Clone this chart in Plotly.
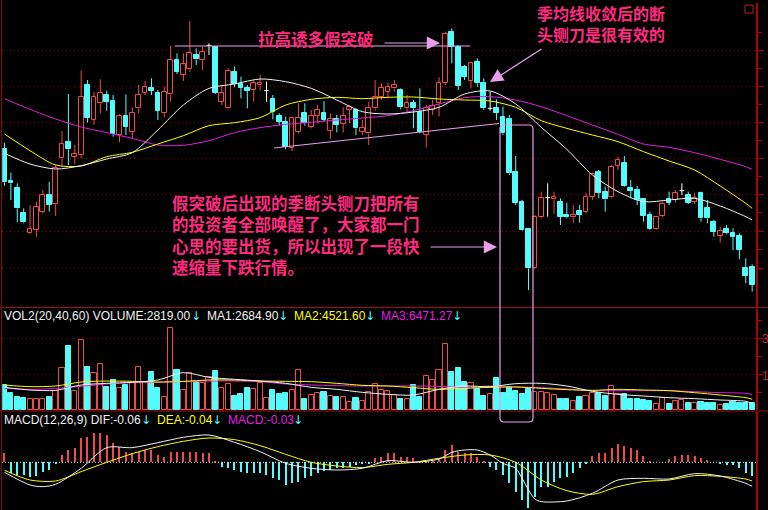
import plotly.graph_objects as go

# ---------------- data ----------------
opens = [6.12,5.16,4.95,4.20,3.60,3.70,4.25,4.75,4.47,5.85,
         6.33,5.90,5.95,8.05,7.00,7.50,7.75,7.57,6.55,7.13,
         6.65,7.35,7.82,7.97,7.82,7.22,7.77,8.80,8.35,8.52,
         8.95,8.80,9.24,9.20,7.55,7.35,8.45,8.07,7.97,7.90,
         8.05,7.88,7.63,7.13,6.93,6.17,6.65,7.22,6.80,7.13,
         7.22,6.67,7.02,6.87,7.30,7.30,6.65,6.60,7.35,7.69,
         7.85,7.95,7.90,7.35,7.50,7.25,6.55,7.30,7.50,8.10,
         9.65,9.20,8.58,8.18,8.73,8.10,7.35,7.35,7.08,7.03,
         5.43,4.55,3.73,2.55,4.10,4.67,4.62,4.55,4.15,4.08,
         4.27,4.25,4.70,5.45,4.85,4.68,5.63,5.70,4.95,4.90,
         4.62,4.15,3.72,4.13,4.62,4.60,4.88,4.75,4.55,4.82,
         4.35,3.95,3.52,3.73,3.60,3.52,2.55,2.58]
closes = [5.13,5.10,4.35,3.93,3.72,4.40,4.75,4.45,5.55,6.27,
          6.12,5.97,7.70,7.07,7.70,7.82,7.55,6.57,7.13,6.80,
          7.22,7.75,8.00,7.87,7.27,7.85,8.80,8.45,8.67,9.00,
          8.82,9.05,9.24,7.82,7.82,8.48,8.07,7.97,7.88,8.10,
          8.12,7.88,7.25,6.95,6.20,7.05,7.07,6.90,7.13,7.30,
          7.00,7.02,6.85,7.13,7.38,6.75,6.77,7.35,7.68,7.96,
          8.00,8.05,7.38,7.50,7.35,6.65,7.35,7.42,8.10,9.58,
          9.20,8.02,8.30,8.72,8.10,7.35,7.35,7.22,6.60,5.40,
          4.52,3.70,2.55,4.10,4.67,4.67,4.70,4.10,4.08,4.15,
          4.15,4.70,5.38,4.82,4.62,5.60,5.80,5.02,4.88,4.60,
          4.13,3.72,4.08,4.48,4.52,4.82,4.88,4.52,4.65,4.05,
          4.05,3.65,3.68,3.60,3.50,3.10,2.32,2.05]
highs = [6.32,5.42,5.10,4.35,4.45,4.55,4.90,5.15,5.65,6.67,
         7.78,6.25,8.48,8.20,7.85,8.22,7.88,7.75,7.17,7.77,
         7.38,8.05,8.18,8.25,7.90,8.00,9.22,9.00,9.00,9.97,
         9.15,9.20,9.30,9.22,8.05,8.55,8.60,8.30,8.05,8.20,
         8.35,8.15,7.75,7.20,7.10,7.10,7.50,7.50,7.30,7.45,
         7.57,7.20,7.15,7.38,7.45,7.35,7.00,7.55,8.20,8.10,
         8.12,8.20,7.95,7.75,7.60,7.95,7.45,7.60,8.28,9.65,
         9.75,9.25,8.65,8.75,8.85,8.25,7.85,7.62,7.40,7.15,
         5.92,4.60,3.75,4.15,4.85,5.10,4.85,4.65,4.52,4.45,
         4.45,4.82,5.42,5.50,5.00,5.65,5.90,5.92,5.20,5.02,
         4.65,4.25,4.12,4.55,4.85,4.90,5.10,4.85,4.82,4.85,
         4.60,4.00,3.80,3.85,3.75,3.60,2.85,2.67]
lows = [5.03,4.60,3.94,3.90,3.58,3.50,4.20,4.25,4.12,5.60,
        5.65,5.68,5.85,6.92,6.85,7.20,7.28,6.50,6.33,6.55,
        6.45,7.20,7.75,7.75,7.00,7.08,7.55,8.38,8.17,8.45,
        8.65,8.50,8.95,7.78,7.45,7.32,7.98,7.65,7.35,7.55,
        7.88,7.55,7.02,6.83,6.12,6.07,6.60,6.83,6.75,6.90,
        6.95,6.43,6.63,6.63,6.90,6.55,6.55,6.25,7.28,7.60,
        7.65,7.85,7.32,7.20,6.75,6.60,6.18,7.15,7.10,8.05,
        8.70,7.90,8.20,7.95,8.00,7.30,7.28,7.00,6.55,5.35,
        4.45,3.68,1.90,2.52,4.05,4.10,4.18,3.85,4.05,3.92,
        3.92,4.20,4.60,4.65,4.25,4.65,5.50,5.00,4.65,4.45,
        3.95,3.70,3.70,4.08,4.45,4.52,4.75,4.48,4.48,3.95,
        3.90,3.50,3.32,3.57,3.10,2.82,2.10,1.85]

volumes = [10500,7000,5600,5180,4620,4620,4620,5600,8120,17500,
           26880,8120,29400,18200,15680,19320,9520,12600,9100,10500,
           11200,18200,11900,16100,9100,5600,34300,16800,8400,15400,
           11900,11200,13720,16380,9100,10920,5880,6720,9100,8680,
           11480,5180,8400,6580,7280,8400,16800,4620,6300,7000,
           7700,5880,5600,5600,3500,5180,3920,7700,10920,8400,
           8120,6300,4480,4620,10500,5600,14280,12600,16800,27720,
           16100,17780,11900,11200,8680,5880,6720,13580,7280,9800,
           8120,6720,8680,7700,7420,7000,6300,4620,4480,3780,
           5600,5880,7000,7000,5880,10080,6580,6720,4480,4480,
           4200,3780,2380,5180,2380,3780,4200,3080,3080,3500,
           3080,3080,2100,2380,3500,3080,3080,2819]

# moving-average lines, sampled at these candle indices
ma_idx = [0,4,8,12,16,20,24,28,32,36,40,44,48,52,56,60,64,68,72,76,80,84,88,92,96,100,104,108,112,116,117]
ma_short = [6.00,5.68,5.53,5.63,5.83,6.02,6.70,7.45,7.95,8.08,8.23,8.15,7.95,7.60,7.25,7.18,7.24,7.38,7.78,7.87,7.48,6.78,6.12,5.35,4.85,4.55,4.60,4.65,4.42,4.10,4.00]
ma_mid = [6.58,6.08,5.65,5.62,5.90,6.03,6.28,6.53,6.83,6.92,7.07,7.45,7.62,7.68,7.64,7.68,7.69,7.63,7.60,7.57,7.38,6.98,6.75,6.55,6.35,6.05,5.77,5.50,5.02,4.50,4.35]
ma_long = [7.64,7.32,7.03,6.79,6.62,6.45,6.25,6.24,6.38,6.62,6.77,6.87,6.93,7.00,7.06,7.13,7.28,7.48,7.67,7.70,7.60,7.40,7.13,6.85,6.57,6.28,6.18,6.02,5.82,5.60,5.52]

vol_ma1 = [9520,8400,8260,10500,11200,11620,12600,15680,13720,12880,12180,11200,9520,8680,7420,6580,6300,8680,10080,9800,11060,11200,10080,7840,6580,5880,5180,4760,4200,3640,2685]
vol_ma2 = [10500,9800,10080,11760,12180,12040,11760,12040,12600,12600,12180,12040,11900,11200,10360,10080,9380,8680,9100,9520,9660,9100,8540,8260,8680,8400,8120,7280,6300,5180,4522]
vol_ma3 = [9100,8680,9100,9940,10920,11480,11620,11900,12180,12180,11900,10920,10500,10220,10080,10080,10080,9940,9520,10080,9660,9380,8820,8120,8120,8120,8120,7700,7280,7000,6471]

macd_hist = [0.0225,-0.0275,-0.0317,-0.0317,-0.0358,-0.0333,-0.0233,-0.0192,-0.0025,0.0183,
             0.0308,0.0367,0.06,0.0642,0.0725,0.0742,0.0683,0.0475,0.0392,0.0267,
             0.0225,0.0267,0.0308,0.0308,0.0183,0.0142,0.0267,0.0267,0.0267,0.0267,
             0.025,0.0225,0.0225,0.0017,-0.0108,-0.015,-0.0192,-0.0233,-0.0275,-0.0275,
             -0.0275,-0.0317,-0.04,-0.0442,-0.0567,-0.0525,-0.0483,-0.04,-0.0333,-0.0275,
             -0.0217,-0.0192,-0.015,-0.015,-0.0108,-0.0067,-0.005,-0.0025,0.01,0.0142,
             0.0225,0.0225,0.0142,0.0142,0.01,0.0033,0.0017,0.0033,0.01,0.0308,
             0.0433,0.0267,0.0225,0.0225,0.0142,0.0017,-0.0108,-0.0192,-0.0317,-0.0525,
             -0.0733,-0.0942,-0.115,-0.0858,-0.0608,-0.0608,-0.0483,-0.04,-0.0358,-0.0275,
             -0.015,-0.0025,0.0167,0.0225,0.0225,0.035,0.045,0.0417,0.035,0.0308,
             0.0167,0.0033,0.0,0.0,0.0083,0.0167,0.0183,0.0183,0.0167,0.01,
             0.0058,0.0,-0.0025,-0.0067,-0.0067,-0.015,-0.0275,-0.0333]
dif_idx = [0,4,6,8,12,16,20,24,28,32,36,40,44,48,52,56,60,64,68,70,72,74,76,78,80,81,82,83,84,88,92,96,100,104,108,112,116,117]
dif_vals = [-0.025,-0.0567,-0.0608,-0.055,-0.015,0.0367,0.0367,0.0492,0.0625,0.0683,0.05,0.0267,-0.0025,-0.015,-0.0192,-0.015,
            0.0042,0.0,0.0083,0.025,0.0308,0.0308,0.0183,-0.0025,-0.015,-0.04,-0.0692,-0.0917,-0.0983,-0.0967,-0.0775,-0.0442,
            -0.04,-0.0417,-0.0283,-0.0342,-0.0525,-0.06]
dea_vals = [-0.02,-0.0442,-0.0467,-0.0233,0.0,0.0217,0.0392,0.0525,0.0608,0.0567,0.0417,0.02,0.0,-0.0092,-0.0133,-0.005,
            0.0,0.01,0.0183,0.0183,0.0,-0.0442,-0.0708,-0.08,-0.0608,-0.0483,-0.0442,-0.0333,-0.035,-0.0417,-0.0467]

price_grid = [2.56, 3.67, 4.78, 5.86, 6.94, 8.02, 9.10]
price_minor = [3.115, 4.225, 5.32, 6.40, 7.48, 8.56, 9.64]
vol_grid = [15000, 30000]
vol_minor = [7500, 22500, 37500]

vol_header = [("VOL2(20,40,60) VOLUME:2819.00", "w"), ("↓", "c"), ("MA1:2684.90", "w"), ("↓", "c"),
              ("MA2:4521.60", "y"), ("↓", "c"), ("MA3:6471.27", "m"), ("↓", "c")]
macd_header = [("MACD(12,26,9) DIF:-0.06", "w"), ("↓", "c"), ("DEA:-0.04", "y"), ("↓", "c"),
               ("MACD:-0.03", "m"), ("↓", "c")]

note_top = "拉高诱多假突破"
note_right = ["季均线收敛后的断", "头铡刀是很有效的"]
note_body = ["假突破后出现的季断头铡刀把所有", "的投资者全部唤醒了，大家都一门",
             "心思的要出货，所以出现了一段快", "速缩量下跌行情。"]

# ---------------- styling ----------------
W, H = 768, 510
RED = "#f04a4a"
CYAN = "#54fcfc"
WHITE = "#f2f2f2"
YELLOW = "#ffff00"
MAG = "#e020e0"
GRID = "#8a0000"
AXIS = "#b00000"
NOTE = "#ff2a80"
ANN = "#e8a0ec"
CJK = "Noto Sans CJK SC"
LAT = "Liberation Sans, Arial"
COLS = {"w": WHITE, "c": CYAN, "y": YELLOW, "m": MAG}


def px(x):
    return x / W


def py(y):
    return 1 - y / H


N = len(opens)
idx = list(range(N))
up = [i for i in idx if closes[i] > opens[i]]
dn = [i for i in idx if closes[i] < opens[i]]
dj = [i for i in idx if closes[i] == opens[i]]

fig = go.Figure()

# candle bodies
fig.add_trace(go.Bar(x=up, y=[closes[i] - opens[i] for i in up], base=[opens[i] for i in up],
                     width=0.74, marker=dict(color="#000000", line=dict(color=RED, width=1)),
                     xaxis="x", yaxis="y"))
fig.add_trace(go.Bar(x=dn, y=[opens[i] - closes[i] for i in dn], base=[closes[i] for i in dn],
                     width=0.74, marker=dict(color=CYAN, line=dict(color=CYAN, width=1)),
                     xaxis="x", yaxis="y"))


def wicks(ids):
    xs, ys = [], []
    for i in ids:
        lo, hi = min(opens[i], closes[i]), max(opens[i], closes[i])
        xs += [i, i, None, i, i, None]
        ys += [lows[i], lo, None, hi, highs[i], None]
    return xs, ys


for ids, col in ((up, RED), (dn, CYAN)):
    wx, wy = wicks(ids)
    fig.add_trace(go.Scatter(x=wx, y=wy, mode="lines", line=dict(color=col, width=1),
                             xaxis="x", yaxis="y", hoverinfo="skip"))
dx, dy = [], []
for i in dj:
    dx += [i, i, None, i - 0.37, i + 0.37, None]
    dy += [lows[i], highs[i], None, opens[i], opens[i], None]
fig.add_trace(go.Scatter(x=dx, y=dy, mode="lines", line=dict(color="#ffffff", width=1),
                         xaxis="x", yaxis="y", hoverinfo="skip"))

for vals, col in ((ma_long, MAG), (ma_mid, YELLOW), (ma_short, WHITE)):
    fig.add_trace(go.Scatter(x=ma_idx, y=vals, mode="lines",
                             line=dict(color=col, width=1, shape="spline", smoothing=0.8),
                             xaxis="x", yaxis="y"))

# volume
vup = [i for i in idx if closes[i] >= opens[i]]
vdn = [i for i in idx if closes[i] < opens[i]]
fig.add_trace(go.Bar(x=vup, y=[volumes[i] for i in vup], width=0.8,
                     marker=dict(color="#000000", line=dict(color=RED, width=1)),
                     xaxis="x2", yaxis="y2"))
fig.add_trace(go.Bar(x=vdn, y=[volumes[i] for i in vdn], width=0.8,
                     marker=dict(color=CYAN, line=dict(color=CYAN, width=1)),
                     xaxis="x2", yaxis="y2"))
for vals, col in ((vol_ma3, MAG), (vol_ma2, YELLOW), (vol_ma1, WHITE)):
    fig.add_trace(go.Scatter(x=ma_idx, y=vals, mode="lines",
                             line=dict(color=col, width=1, shape="spline", smoothing=0.8),
                             xaxis="x2", yaxis="y2"))

# MACD
fig.add_trace(go.Bar(x=idx, y=macd_hist, width=0.18,
                     marker=dict(color=[RED if v >= 0 else CYAN for v in macd_hist], line=dict(width=0)),
                     xaxis="x3", yaxis="y3"))
fig.add_trace(go.Scatter(x=ma_idx, y=dea_vals, mode="lines",
                         line=dict(color=YELLOW, width=1, shape="spline", smoothing=0.8),
                         xaxis="x3", yaxis="y3"))
fig.add_trace(go.Scatter(x=dif_idx, y=dif_vals, mode="lines",
                         line=dict(color=WHITE, width=1, shape="spline", smoothing=0.8),
                         xaxis="x3", yaxis="y3"))

xdom = [px(2), px(756)]
xr = [-0.39, 117.6]
xax = dict(domain=xdom, range=xr, showgrid=False, zeroline=False, showticklabels=False,
           ticks="", showline=False, fixedrange=True)


def yax(dom, rng, grid, minor, anchor):
    return dict(domain=dom, range=rng, side="right", anchor=anchor, tickvals=grid,
                showticklabels=False, ticks="outside", ticklen=6, tickcolor=AXIS, tickwidth=1,
                showgrid=True, gridcolor=GRID, griddash="1px,3px", gridwidth=1,
                showline=True, linecolor=AXIS, linewidth=1.5, zeroline=False,
                minor=dict(tickvals=minor, ticks="outside", ticklen=4, tickcolor=AXIS, showgrid=False))


layout = dict(
    width=W, height=H, autosize=False,
    margin=dict(l=0, r=0, t=0, b=0, pad=0),
    paper_bgcolor="#000000", plot_bgcolor="#000000",
    showlegend=False, barmode="overlay", bargap=0,
    xaxis=dict(xax, anchor="y"),
    xaxis2=dict(xax, anchor="y2"),
    xaxis3=dict(xax, anchor="y3"),
    yaxis=yax([py(307), py(3)], [1.39, 10.51], price_grid, price_minor, "x"),
    yaxis2=yax([py(410), py(309)], [0, 42420], vol_grid, vol_minor, "x2"),
    yaxis3=dict(domain=[0, py(412)], range=[-0.1192, 0.1258], side="right", anchor="x3",
                showticklabels=False, ticks="", showgrid=False, zeroline=False,
                showline=True, linecolor=AXIS, linewidth=2),
)
fig.update_layout(**layout)

shapes = []
# panel separators and borders
for yy in (307.5, 411):
    shapes.append(dict(type="line", xref="paper", yref="paper", x0=0, x1=1, y0=py(yy), y1=py(yy),
                       line=dict(color="#a01010", width=1.2)))
shapes.append(dict(type="line", xref="paper", yref="paper", x0=px(1.5), x1=px(1.5), y0=0, y1=1,
                   line=dict(color="#5a1a1a", width=1.5)))
shapes.append(dict(type="rect", xref="paper", yref="paper", x0=px(745), x1=px(753), y0=py(13), y1=py(5),
                   line=dict(color="#b02020", width=1)))
# MACD zero line
shapes.append(dict(type="line", xref="paper", yref="y3", x0=xdom[0], x1=xdom[1], y0=0, y1=0,
                   line=dict(color="#d8d8d8", width=1, dash="1px,2px")))
# annotation lines
shapes.append(dict(type="line", xref="paper", yref="paper", x0=px(175), x1=px(470), y0=py(46), y1=py(46),
                   line=dict(color=ANN, width=1.2)))
shapes.append(dict(type="line", xref="paper", yref="paper", x0=px(274), x1=px(499), y0=py(148), y1=py(123.5),
                   line=dict(color=ANN, width=1.2)))
pts = [("M", 500, 418), ("L", 500, 129), ("Q", 500, 125, 504, 125), ("L", 529, 125),
       ("Q", 533, 125, 533, 129), ("L", 533, 418), ("Q", 533, 422, 529, 422), ("L", 504, 422),
       ("Q", 500, 422, 500, 418)]
path = ""
for p in pts:
    cmd = p[0]
    coords = p[1:]
    seg = []
    for k in range(0, len(coords), 2):
        seg.append(f"{px(coords[k]):.5f},{py(coords[k + 1]):.5f}")
    path += cmd + " " + " ".join(seg) + " "
shapes.append(dict(type="path", xref="paper", yref="paper", path=path + "Z",
                   line=dict(color=ANN, width=1.2)))
fig.update_layout(shapes=shapes)

ann = []


def text(t, x, y, color, size, family, anchor="left", yanchor="middle"):
    ann.append(dict(text=t, x=px(x), y=py(y), xref="paper", yref="paper", showarrow=False,
                    xanchor=anchor, yanchor=yanchor, align="left",
                    font=dict(color=color, size=size, family=family), borderpad=0))


text("<b>" + note_top + "</b>", 257, 39, NOTE, 16.5, CJK)
text("<b>" + "<br>".join(note_right) + "</b>", 536, 23.5, NOTE, 16, CJK)
text("<b>" + "<br>".join(note_body) + "</b>", 171, 235, NOTE, 16.5, CJK)

vol_x = [3, 196, 206, 283, 293, 370, 380, 457]
for (t, c), x in zip(vol_header, vol_x):
    text(t, x, 316, COLS[c], 12, LAT if t != "↓" else "DejaVu Sans", "center" if t == "↓" else "left")
macd_x = [3, 146, 156, 217, 227, 298]
for (t, c), x in zip(macd_header, macd_x):
    text(t, x, 420, COLS[c], 12, LAT if t != "↓" else "DejaVu Sans", "center" if t == "↓" else "left")
text("3", 761, 339, "#c03030", 12, LAT)
text("1", 761, 376, "#c03030", 12, LAT)

for (hx, hy, tx, ty) in ((440, 43, 383, 43), (490, 82, 543, 48), (497, 247, 429, 247)):
    ann.append(dict(text="", x=px(hx), y=py(hy), xref="paper", yref="paper", showarrow=True,
                    ax=tx - hx, ay=ty - hy, arrowhead=2, arrowsize=2.2, arrowwidth=1.2,
                    arrowcolor=ANN))
fig.update_layout(annotations=ann)

fig.write_html("out.html", config={"displayModeBar": False},
               post_script="document.body.style.margin='0px';document.body.style.background='#000';")
